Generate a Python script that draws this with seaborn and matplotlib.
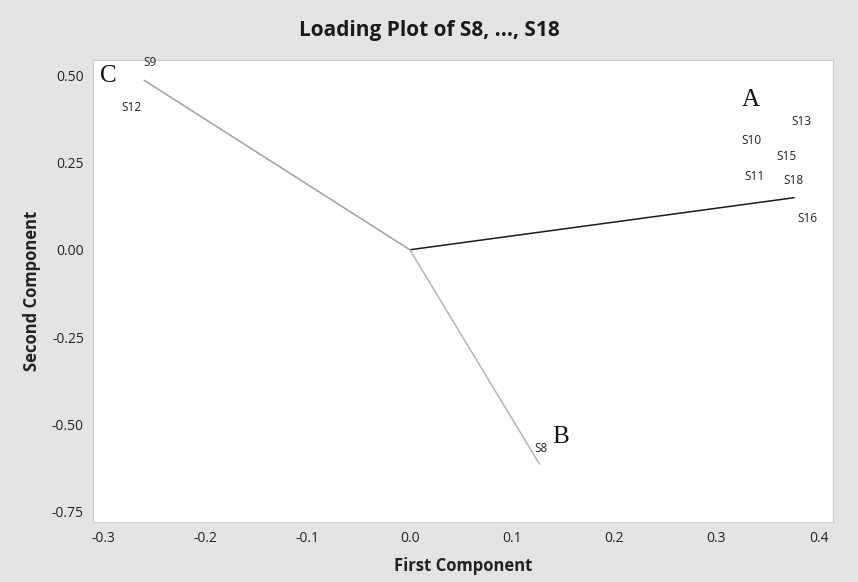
import pandas as pd
import matplotlib.pyplot as plt
import seaborn as sns
import numpy as np

# line ends (groups A, B, C), every line starts at the origin
groups = ['A', 'B', 'C']
end_x = [0.376, 0.127, -0.260]
end_y = [0.149, -0.614, 0.485]

# variable labels
var_names = ['S9', 'S12', 'S13', 'S10', 'S15', 'S11', 'S18', 'S16', 'S8']
var_x = [-0.254, -0.272, 0.383, 0.334, 0.368, 0.337, 0.375, 0.389, 0.128]
var_y = [0.537, 0.406, 0.366, 0.314, 0.266, 0.209, 0.197, 0.089, -0.569]

# group letters
letter_x = [0.334, 0.147, -0.295]
letter_y = [0.429, -0.537, 0.497]

rows = []
for g, x, y in zip(groups, end_x, end_y):
    rows.append({'x': 0.0, 'y': 0.0, 'group': g})
    rows.append({'x': x, 'y': y, 'group': g})
df = pd.DataFrame(rows)

sns.set_style('white')
plt.rcParams['font.family'] = ['Open Sans', 'DejaVu Sans']

fig = plt.figure(figsize=(8.58, 5.82), dpi=100, facecolor='#e4e4e4')
ax = fig.add_axes([93/858, 1-522/582, 740/858, 462/582])
ax.set_facecolor('white')

sns.lineplot(data=df, x='x', y='y', hue='group', sort=False, estimator=None,
             palette={'A': '#1a1a1a', 'B': '#b4b4b4', 'C': '#a0a0a0'},
             linewidth=1.1, legend=False, ax=ax)

for n, x, y in zip(var_names, var_x, var_y):
    ax.text(x, y, n, fontsize=8.5, ha='center', va='center', color='#222222')
for n, x, y in zip(groups, letter_x, letter_y):
    ax.text(x, y, n, fontsize=18, ha='center', va='center', color='#111111',
            family='Liberation Serif')

ax.set_xlim(-0.31, 0.414)
ax.set_ylim(-0.779, 0.543)
ax.set_xticks([-0.3, -0.2, -0.1, 0.0, 0.1, 0.2, 0.3, 0.4])
ax.set_yticks([0.5, 0.25, 0.0, -0.25, -0.5, -0.75])
ax.set_xticklabels(['-0.3', '-0.2', '-0.1', '0.0', '0.1', '0.2', '0.3', '0.4'])
ax.set_yticklabels(['0.50', '0.25', '0.00', '-0.25', '-0.50', '-0.75'])
ax.tick_params(labelsize=10, length=3, color='#999999', labelcolor='#222222')
for s in ax.spines.values():
    s.set_color('#cccccc')
    s.set_linewidth(0.8)

ax.set_xlabel('First Component', fontsize=12, fontweight='bold', color='#222222', labelpad=8)
ax.set_ylabel('Second Component', fontsize=12, fontweight='bold', color='#222222', labelpad=8)
fig.text(0.5, 0.948, 'Loading Plot of S8, ..., S18', ha='center', va='center',
         fontsize=15, fontweight='bold', color='#1a1a1a')

fig.savefig('out.png', dpi=100, facecolor=fig.get_facecolor())
